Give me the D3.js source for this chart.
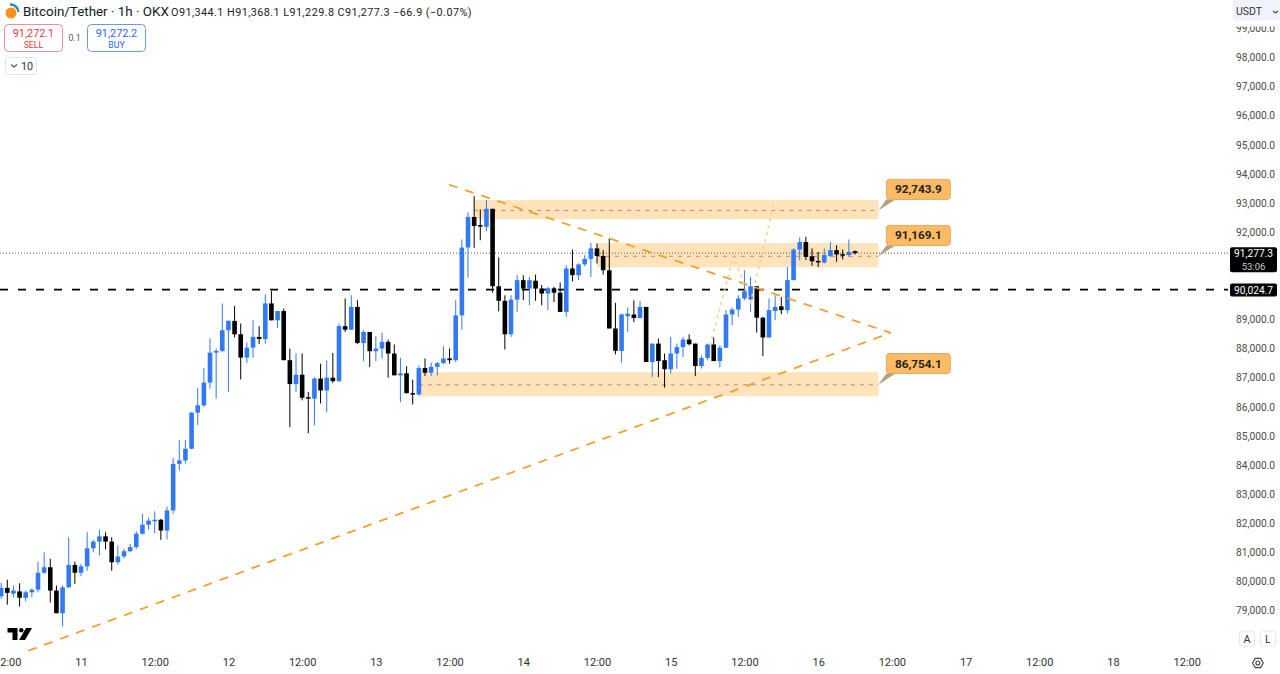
<!DOCTYPE html>
<html>
<head>
<meta charset="utf-8">
<script src="https://cdnjs.cloudflare.com/ajax/libs/d3/7.9.0/d3.min.js"></script>
<style>
  html, body { margin: 0; padding: 0; background: #fff; overflow: hidden; }
  svg { display: block; font-family: Roboto, "Liberation Sans", sans-serif; }
</style>
</head>
<body>
<div id="chart"></div>
<script>
// Hourly candles, the first one is 13 hours before the "11" day tick
const firstHour = -13;
const opens = [
  79490, 79780, 79580, 79660, 79440, 79630, 79720, 80300, 80490, 79690,
  78910, 79800, 80570, 80300, 80520, 81140, 81370, 81550, 81370, 80660,
  80860, 81040, 81180, 81640, 81950, 82090, 82120, 81750, 82440, 84040,
  84160, 84560, 85800, 86050, 86830, 87860, 87920, 88630, 88950, 88490,
  87690, 88030, 88400, 88330, 89550, 88970, 89290, 87600, 86780, 87100,
  86330, 86280, 86970, 86560, 87000, 86880, 88770, 88650, 89430, 88190,
  88570, 87910, 88000, 88230, 87830, 87080, 87150, 86470, 86420, 87330,
  87170, 87370, 87500, 87660, 87600, 89140, 91470, 92520, 92240, 92180,
  92800, 90140, 89640, 88490, 89680, 90350, 90060, 90330, 90060, 89890,
  90070, 89920, 89260, 90750, 90520, 90890, 91080, 91440, 91180, 90690,
  88690, 87920, 89110, 89170, 89050, 89430, 87540, 88170, 87600, 87290,
  87830, 88050, 88310, 88170, 87400, 87680, 88140, 87570, 88030, 89170,
  89340, 89720, 89690, 90140, 89060, 88380, 89290, 89450, 89320, 90350,
  91400, 91660, 91170, 91010, 90960, 91180, 91380, 91240, 91210, 91344.1
];
const highs = [
  79960, 80060, 79860, 79940, 79690, 79760, 80680, 81000, 80780, 79860,
  79860, 81520, 80680, 80600, 81690, 81430, 81780, 81690, 81520, 81230,
  81120, 81290, 81720, 82320, 82190, 82410, 82150, 82570, 84250, 84850,
  84850, 85810, 86640, 87330, 88340, 88000, 89550, 88970, 89460, 88860,
  88200, 88970, 88770, 89860, 89980, 89290, 89370, 88000, 87830, 87830,
  86510, 87020, 87480, 87600, 87850, 88860, 89720, 89830, 89660, 88630,
  88570, 88420, 88550, 88310, 88140, 87680, 87390, 86930, 87420, 87660,
  87520, 87540, 88080, 88000, 89660, 91750, 92680, 93240, 92780, 93100,
  92800, 91130, 89830, 89830, 90520, 90520, 90460, 90540, 90180, 90120,
  90120, 90270, 90860, 91400, 90920, 91210, 91630, 91610, 91380, 91780,
  89570, 89200, 89410, 89660, 89640, 89430, 88170, 88340, 87830, 88400,
  88170, 88400, 88490, 88170, 87770, 88170, 88380, 88110, 89320, 89410,
  89830, 90690, 90460, 90140, 89090, 89720, 89830, 89770, 90800, 91440,
  91820, 91840, 91440, 91320, 91440, 91660, 91550, 91400, 91750, 91368.1
];
const lows = [
  79410, 79200, 79450, 79140, 79320, 79460, 79630, 80260, 79280, 78910,
  78460, 79780, 79920, 80180, 80370, 81000, 80890, 81100, 80370, 80580,
  80800, 81000, 81120, 81610, 81780, 81660, 81430, 81440, 82330, 83810,
  84050, 84540, 85380, 85990, 86620, 86280, 87880, 86510, 88380, 86940,
  87500, 87690, 88150, 88170, 88970, 88710, 87600, 85300, 86510, 86220,
  85090, 85360, 86110, 85810, 86820, 86860, 88570, 88630, 88150, 87560,
  87370, 87560, 87660, 87000, 87080, 86160, 86450, 86080, 86390, 87060,
  87060, 87080, 87460, 87480, 87540, 88650, 90430, 91460, 91720, 92030,
  89920, 89280, 87970, 88400, 89260, 89660, 89490, 89640, 89490, 89320,
  89600, 89260, 89090, 90310, 90350, 90830, 90460, 90920, 90540, 88690,
  87800, 87520, 88570, 88910, 89030, 87540, 87020, 87020, 86660, 87140,
  87310, 87710, 88110, 87050, 87310, 87600, 87570, 87350, 88010, 88800,
  89090, 89660, 89260, 88550, 87740, 88380, 88970, 89180, 89200, 90350,
  91040, 91040, 90840, 90800, 90920, 91150, 90980, 91060, 91150, 91229.8
];
const closes = [
  79780, 79610, 79690, 79440, 79630, 79720, 80300, 80490, 79690, 78910,
  79800, 80570, 80300, 80520, 81140, 81370, 81550, 81370, 80660, 80860,
  81040, 81180, 81640, 81950, 82090, 82120, 81750, 82440, 84040, 84160,
  84560, 85800, 86050, 86830, 87860, 87920, 88630, 88950, 88490, 87690,
  88030, 88400, 88330, 89550, 88970, 89290, 87600, 86780, 87100, 86310,
  86280, 86970, 86560, 87000, 86880, 88770, 88650, 89430, 88190, 88570,
  87910, 88000, 88230, 87830, 87080, 87150, 86470, 86420, 87330, 87170,
  87370, 87500, 87660, 87600, 89140, 91470, 92520, 92210, 92210, 92800,
  90140, 89640, 88490, 89680, 90350, 90060, 90350, 90060, 89890, 90070,
  89920, 89260, 90750, 90520, 90890, 91080, 91440, 91180, 90690, 88690,
  87920, 89170, 89200, 89050, 89430, 87540, 88170, 87570, 87290, 87830,
  88050, 88310, 88150, 87400, 87680, 88140, 87570, 88030, 89170, 89340,
  89720, 89970, 90140, 89060, 88380, 89320, 89430, 89320, 90350, 91400,
  91660, 91150, 91000, 90980, 91210, 91380, 91230, 91220, 91320, 91277.3
];

// Axis ticks
const priceTicks = d3.range(79000, 100000, 1000);
const timeTickHours = [-12, 0, 12, 24, 36, 48, 60, 72, 84, 96, 108, 120, 132, 144, 156, 168, 180];
const timeTickLabels = ["12:00", "11", "12:00", "12", "12:00", "13", "12:00", "14", "12:00", "15", "12:00", "16", "12:00", "17", "12:00", "18", "12:00"];

// Drawn levels and zones
const lastPrice = 91277.3;
const supportPrice = 90024.7;
const zoneLevels = [92743.9, 91169.1, 86754.1];
const zoneTops = [93100, 91620, 87190];
const zoneBottoms = [92440, 90790, 86360];
const zoneStartHours = [64, 84, 55];
const zoneEndHour = 129.8;
const calloutTops = [93810, 92230, 87830];

// Trend lines as [hour, price]
const upperTrend = [[59.9, 93630], [131.8, 88540]];
const lowerTrend = [[-8.6, 77620], [131.8, 88540]];
const projection = [[102.4, 88110], [106.2, 91170], [109, 89590], [112.7, 92890], [113.5, 92790]];

const width = 1280, height = 674, plotRight = 1228;
const upColor = "#3179f5", downColor = "#000000";

const x = d3.scaleLinear().domain([-13.186, 186.72]).range([0, plotRight]);
const y = d3.scaleLinear().domain([79000, 98000]).range([610.6, 57.4]);
const money = d3.format(",.1f");

const svg = d3.select("#chart").append("svg")
  .attr("width", width).attr("height", height);
svg.append("rect").attr("width", width).attr("height", height).attr("fill", "#fff");

// Orange zones go under the candles
zoneLevels.forEach((level, i) => {
  svg.append("rect")
    .attr("x", x(zoneStartHours[i]))
    .attr("y", y(zoneTops[i]))
    .attr("width", x(zoneEndHour) - x(zoneStartHours[i]))
    .attr("height", y(zoneBottoms[i]) - y(zoneTops[i]))
    .attr("fill", "#ff9800")
    .attr("fill-opacity", 0.27);
  svg.append("line")
    .attr("x1", x(zoneStartHours[i])).attr("x2", x(zoneEndHour))
    .attr("y1", y(level)).attr("y2", y(level))
    .attr("stroke", "#c9604f")
    .attr("stroke-opacity", 0.75)
    .attr("stroke-width", 1)
    .attr("stroke-dasharray", "4 5");
});

// Last price and the black dashed level
svg.append("line")
  .attr("x1", 0).attr("x2", plotRight)
  .attr("y1", y(lastPrice)).attr("y2", y(lastPrice))
  .attr("stroke", "#555").attr("stroke-width", 1).attr("stroke-dasharray", "1 2");
svg.append("line")
  .attr("x1", 0).attr("x2", plotRight)
  .attr("y1", y(supportPrice)).attr("y2", y(supportPrice))
  .attr("stroke", "#000").attr("stroke-width", 1.7).attr("stroke-dasharray", "8 10");

// Candles
const candleData = opens.map((o, i) => ({
  hour: firstHour + i, open: o, high: highs[i], low: lows[i], close: closes[i]
}));
const candle = svg.append("g").selectAll("g").data(candleData).join("g")
  .attr("fill", d => d.close >= d.open ? upColor : downColor)
  .attr("stroke", d => d.close >= d.open ? upColor : downColor);
candle.append("line")
  .attr("x1", d => x(d.hour)).attr("x2", d => x(d.hour))
  .attr("y1", d => y(d.high)).attr("y2", d => y(d.low))
  .attr("stroke-width", 1);
candle.append("rect")
  .attr("x", d => x(d.hour) - 2.3)
  .attr("width", 4.6)
  .attr("y", d => Math.min(y(d.open), y(d.close)))
  .attr("height", d => Math.max(Math.abs(y(d.open) - y(d.close)), 1.5))
  .attr("stroke", "none");

// Trend lines on top
const line = d3.line().x(d => x(d[0])).y(d => y(d[1]));
[upperTrend, lowerTrend].forEach(pts => {
  svg.append("path").attr("d", line(pts))
    .attr("fill", "none")
    .attr("stroke", "#f5a02c")
    .attr("stroke-width", 1.8)
    .attr("stroke-dasharray", "9 8");
});
svg.append("path").attr("d", line(projection))
  .attr("fill", "none")
  .attr("stroke", "#f9cd8c")
  .attr("stroke-width", 1.5)
  .attr("stroke-dasharray", "3 4");

// Callouts at the end of each zone
zoneLevels.forEach((level, i) => {
  const tipX = x(zoneEndHour), tipY = y(level);
  const boxX = tipX + 8, boxY = y(calloutTops[i]), boxW = 64, boxH = 20;
  svg.append("path")
    .attr("d", `M${tipX},${tipY}L${boxX},${boxY + boxH}L${boxX + 9},${boxY + boxH}Z`)
    .attr("fill", "#b39f80");
  svg.append("rect")
    .attr("x", boxX).attr("y", boxY)
    .attr("width", boxW).attr("height", boxH)
    .attr("rx", 3)
    .attr("fill", "#ffbb63")
    .attr("stroke", "#d9ab68");
  svg.append("text")
    .attr("x", boxX + boxW / 2).attr("y", boxY + 14)
    .attr("text-anchor", "middle")
    .attr("font-size", 11.8)
    .attr("font-weight", 700)
    .attr("fill", "#222")
    .text(money(level));
});

// Price axis
const yAxis = svg.append("g")
  .attr("transform", `translate(${plotRight + 8},0)`)
  .call(d3.axisRight(y).tickValues(priceTicks).tickSize(0).tickPadding(0).tickFormat(money));
yAxis.select(".domain").remove();
yAxis.selectAll("text").attr("font-size", 10.2).attr("fill", "#4a4a4a").attr("font-family", "Roboto");

// Time axis
const xAxis = svg.append("g")
  .attr("transform", "translate(0,658)")
  .call(d3.axisBottom(x).tickValues(timeTickHours).tickSize(0).tickPadding(0)
    .tickFormat((d, i) => timeTickLabels[i]));
xAxis.select(".domain").remove();
xAxis.selectAll("text").attr("font-size", 11).attr("fill", "#333").attr("font-family", "Roboto");

// Price labels on the axis
function priceTag(top, h, main, sub) {
  svg.append("rect").attr("x", 1230).attr("y", top)
    .attr("width", 47).attr("height", h).attr("rx", 2).attr("fill", "#000");
  svg.append("text").attr("x", 1253.5).attr("y", top + 10)
    .attr("text-anchor", "middle").attr("font-size", 10.2).attr("fill", "#fff").text(main);
  if (sub) {
    svg.append("text").attr("x", 1253.5).attr("y", top + 22.5)
      .attr("text-anchor", "middle").attr("font-size", 9.5).attr("fill", "#ccc").text(sub);
  }
}
priceTag(y(lastPrice) - 6, 25, money(lastPrice), "53:06");
priceTag(y(supportPrice) - 6, 13, money(supportPrice));

// USDT button covers the clipped 99,000 label
svg.append("rect").attr("x", 1228).attr("y", 0).attr("width", 52).attr("height", 26.5).attr("fill", "#fff");
svg.append("rect").attr("x", 1233).attr("y", 0).attr("width", 47).attr("height", 20.5).attr("rx", 2).attr("fill", "#f0f3fa");
svg.append("text").attr("x", 1236).attr("y", 15).attr("font-size", 10.5).attr("fill", "#333").text("USDT");
svg.append("path").attr("d", "M1273,11l2.5,2l2.5,-2").attr("fill", "none").attr("stroke", "#555").attr("stroke-width", 1.2);

// Header
svg.append("circle").attr("cx", 11).attr("cy", 13).attr("r", 5.5).attr("fill", "#f7931a");
svg.append("path").attr("d", "M10,4.5A8,8 0 0 1 18.5,12").attr("fill", "none").attr("stroke", "#2f8fa8").attr("stroke-width", 2.4);
svg.append("text").attr("x", 23).attr("y", 16)
  .attr("font-size", 13.4).attr("fill", "#131722").text("Bitcoin/Tether · 1h · OKX");
svg.append("text").attr("x", 171).attr("y", 15.5)
  .attr("font-size", 10.8).attr("letter-spacing", 0.45).attr("fill", "#222")
  .text("O91,344.1 H91,368.1 L91,229.8 C91,277.3 −66.9 (−0.07%)");

// Sell and buy boxes
function tradeBox(left, price, label, color, border) {
  svg.append("rect").attr("x", left + 0.5).attr("y", 24.5)
    .attr("width", 58).attr("height", 27).attr("rx", 4)
    .attr("fill", "#fff").attr("stroke", border);
  svg.append("text").attr("x", left + 29.5).attr("y", 37)
    .attr("text-anchor", "middle").attr("font-size", 10.8).attr("fill", color).text(price);
  svg.append("text").attr("x", left + 29.5).attr("y", 48)
    .attr("text-anchor", "middle").attr("font-size", 8.8).attr("fill", color).text(label);
}
tradeBox(4, "91,272.1", "SELL", "#f23645", "#ef8e97");
tradeBox(87, "91,272.2", "BUY", "#2962ff", "#6f95f0");
svg.append("text").attr("x", 74.5).attr("y", 41)
  .attr("text-anchor", "middle").attr("font-size", 8.8).attr("fill", "#555").text("0.1");

svg.append("rect").attr("x", 5.5).attr("y", 57.5).attr("width", 31).attr("height", 17)
  .attr("rx", 2).attr("fill", "#fff").attr("stroke", "#e0e3eb");
svg.append("path").attr("d", "M11,64.5l3,2.5l3,-2.5").attr("fill", "none").attr("stroke", "#555").attr("stroke-width", 1.2);
svg.append("text").attr("x", 21).attr("y", 69.5).attr("font-size", 10.8).attr("fill", "#333").text("10");

// TradingView mark
svg.append("path")
  .attr("d", "M7.5,628H17.5V640H12.5V632.5H7.5Z M26,628H32L25,640H19Z")
  .attr("fill", "#000");
svg.append("circle").attr("cx", 21.3).attr("cy", 630.2).attr("r", 2.2).attr("fill", "#000");

// A / L buttons and the settings icon
[["A", 1239], ["L", 1260]].forEach(([t, left]) => {
  svg.append("rect").attr("x", left + 0.5).attr("y", 631).attr("width", 15).attr("height", 15)
    .attr("rx", 2).attr("fill", "#fff").attr("stroke", "#e6e8ee");
  svg.append("text").attr("x", left + 8).attr("y", 642.5)
    .attr("text-anchor", "middle").attr("font-size", 10.8).attr("fill", "#333").text(t);
});
svg.append("path").attr("d", "M1252.5,663l2.7,-4.6h5.4l2.7,4.6l-2.7,4.6h-5.4Z")
  .attr("fill", "none").attr("stroke", "#444").attr("stroke-width", 1.1);
svg.append("circle").attr("cx", 1257.9).attr("cy", 663).attr("r", 2)
  .attr("fill", "none").attr("stroke", "#444").attr("stroke-width", 1.1);
</script>
</body>
</html>
